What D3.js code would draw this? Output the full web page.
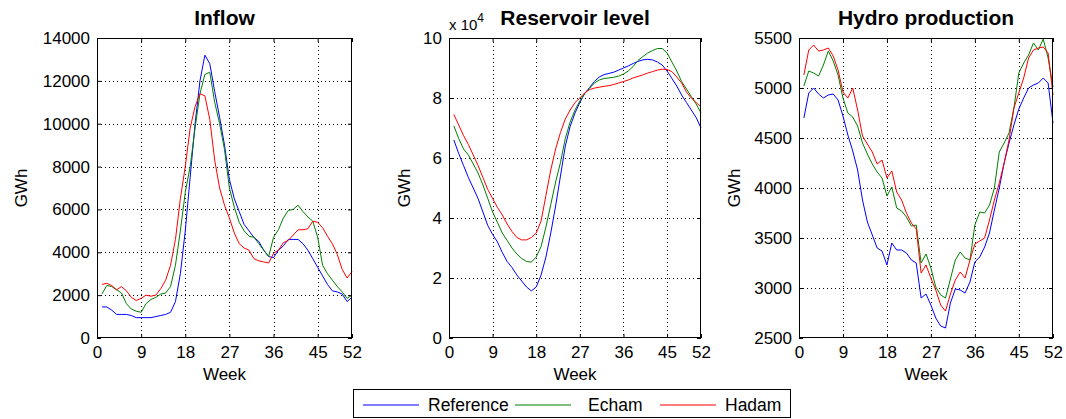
<!DOCTYPE html>
<html>
<head>
<meta charset="utf-8">
<script src="https://cdn.jsdelivr.net/npm/d3@7"></script>
<style>
  html, body { margin: 0; padding: 0; background: #fff; }
  svg { display: block; font-family: "Liberation Sans", Arial, sans-serif; }
</style>
</head>
<body>
<svg id="chart" width="1066" height="419"></svg>
<script>
// ---------- data ----------
const weeks = d3.range(1, 53);
const seriesNames = ["Reference", "Echam", "Hadam"];
const seriesColors = ["#0000ff", "#008000", "#ff0000"];
const xTicks = [0, 9, 18, 27, 36, 45, 52];

const inflowTitle = "Inflow";
const inflowTicks = [0, 2000, 4000, 6000, 8000, 10000, 12000, 14000];
const inflowReference = [1450,1450,1300,1100,1100,1100,1050,950,950,950,950,1000,1050,1100,1200,1700,3000,5000,7500,10000,12000,13200,12800,11500,10300,9000,7400,6500,5900,5300,5000,4700,4500,4100,3800,3750,4100,4300,4600,4600,4600,4400,4100,3700,3300,2900,2500,2200,2150,2050,1700,1900];
const inflowEcham = [2050,2450,2400,2250,2100,1600,1350,1250,1200,1600,1800,1900,2050,2100,2400,3400,5000,6800,8000,9800,11400,12300,12400,11000,10000,8800,7000,6100,5400,5000,4750,4700,4400,4100,3800,4700,5050,5600,5950,6000,6200,5900,5650,5450,4700,3400,3000,2700,2400,2150,1850,2000];
const inflowHadam = [2500,2550,2450,2250,2400,2200,1900,1750,1850,2000,1950,2000,2300,2700,3400,4600,6500,8000,9800,10800,11400,11300,10200,8300,7000,6200,5600,4900,4400,4200,4100,3700,3600,3550,3500,3950,4100,4450,4550,4800,5050,5050,5100,5450,5400,5150,4750,4400,3900,3200,2800,3100];

const reservoirTitle = "Reservoir level";
const reservoirTicks = [0, 20000, 40000, 60000, 80000, 100000];
const reservoirReference = [66000,61500,57500,53500,50000,46500,42000,37500,34500,32000,28500,25500,23500,21000,19000,17000,15700,17000,21000,27000,35000,44000,54000,64000,70500,75000,78500,81500,83500,85500,87000,87800,88200,88600,89300,90000,90700,91500,92200,92700,92900,92700,92000,91000,89000,86500,84000,81000,78500,76000,73500,70000];
const reservoirEcham = [70700,66500,63000,61000,58000,55000,51000,46500,42000,38500,35000,32500,30000,28000,26500,25500,25300,27000,30500,37000,44500,52000,58500,66500,72000,76000,79000,81500,83200,85000,86000,86500,86700,86900,87300,88000,89000,90500,92500,93800,95000,95800,96500,96500,95000,92000,89000,85500,83000,80500,78000,75000];
const reservoirHadam = [74500,71000,67500,64500,61000,57500,53500,49500,46500,43500,41000,38000,35500,33500,32700,32700,33500,35000,39000,47500,56000,63000,68500,73000,76000,78500,80000,81700,82800,83300,83600,83900,84100,84500,85000,85500,86000,86700,87200,87700,88300,88800,89300,89600,89500,88800,87000,85000,82000,80000,78500,77000];

const hydroTitle = "Hydro production";
const hydroTicks = [2500, 3000, 3500, 4000, 4500, 5000, 5500];
const hydroReference = [4700,4950,5000,4940,4900,4930,4940,4880,4720,4530,4370,4180,3880,3660,3530,3400,3370,3230,3450,3380,3380,3350,3280,3250,2900,2940,2830,2700,2620,2600,2850,2990,2980,2950,3060,3260,3310,3410,3550,3780,4000,4250,4450,4630,4790,4900,5000,5030,5050,5100,5050,4650];
const hydroEcham = [5020,5170,5150,5120,5230,5370,5270,5130,4900,4750,4710,4620,4450,4340,4240,4160,4100,3920,4010,3800,3770,3710,3620,3630,3250,3340,3200,3010,2930,2900,3090,3280,3360,3300,3280,3630,3760,3750,3830,4000,4360,4450,4550,4800,5150,5250,5330,5450,5380,5490,5300,5010];
const hydroHadam = [5130,5380,5430,5370,5380,5400,5320,5180,4960,4900,5000,4780,4520,4440,4360,4240,4280,4100,4170,3960,3880,3750,3650,3590,3150,3230,3100,2980,2830,2770,2940,3080,3160,3100,3280,3440,3470,3500,3680,3880,4050,4250,4480,4800,4950,5100,5300,5380,5400,5410,5350,4930];

const yLabel = "GWh";
const xLabel = "Week";

// ---------- layout ----------
const svg = d3.select("#chart");
const plotTop = 38, plotBottom = 338;
const panels = [
  { title: inflowTitle, left: 97, right: 352, domain: [0, 14000], ticks: inflowTicks, fmt: d => d,
    series: [inflowReference, inflowEcham, inflowHadam], ylabX: 27 },
  { title: reservoirTitle, left: 449, right: 701, domain: [0, 100000], ticks: reservoirTicks, fmt: d => d / 10000,
    series: [reservoirReference, reservoirEcham, reservoirHadam], ylabX: 410, exponent: true },
  { title: hydroTitle, left: 799, right: 1053, domain: [2500, 5500], ticks: hydroTicks, fmt: d => d,
    series: [hydroReference, hydroEcham, hydroHadam], ylabX: 740 }
];

panels.forEach(p => {
  const x = d3.scaleLinear().domain([0, 52]).range([p.left, p.right]);
  const y = d3.scaleLinear().domain(p.domain).range([plotBottom, plotTop]);
  const g = svg.append("g");

  // grid
  const grid = g.append("g").attr("stroke", "#000").attr("stroke-width", 1).attr("stroke-dasharray", "1,3");
  xTicks.filter(t => t > 0 && t < 52).forEach(t => {
    grid.append("line").attr("x1", Math.round(x(t)) + 0.5).attr("x2", Math.round(x(t)) + 0.5)
      .attr("y1", plotTop).attr("y2", plotBottom);
  });
  p.ticks.filter(t => t > p.domain[0] && t < p.domain[1]).forEach(t => {
    grid.append("line").attr("y1", Math.round(y(t)) + 0.5).attr("y2", Math.round(y(t)) + 0.5)
      .attr("x1", p.left).attr("x2", p.right);
  });

  // lines
  const line = d3.line().x((d, i) => x(weeks[i])).y(d => y(d));
  p.series.forEach((s, k) => {
    g.append("path").datum(s).attr("d", line).attr("fill", "none")
      .attr("stroke", seriesColors[k]).attr("stroke-width", 1);
  });

  // axes
  const fs = "17px";
  const ax = g.append("g").attr("transform", `translate(0,${plotBottom})`)
    .call(d3.axisBottom(x).tickValues(xTicks).tickSizeInner(-4).tickSizeOuter(0).tickPadding(8));
  const ay = g.append("g").attr("transform", `translate(${p.left},0)`)
    .call(d3.axisLeft(y).tickValues(p.ticks).tickFormat(p.fmt).tickSizeInner(-4).tickSizeOuter(0).tickPadding(7));
  const at = g.append("g").attr("transform", `translate(0,${plotTop})`)
    .call(d3.axisTop(x).tickValues(xTicks).tickFormat("").tickSizeInner(-4).tickSizeOuter(0));
  const ar = g.append("g").attr("transform", `translate(${p.right},0)`)
    .call(d3.axisRight(y).tickValues(p.ticks).tickFormat("").tickSizeInner(-4).tickSizeOuter(0));
  [ax, ay, at, ar].forEach(a => {
    a.select(".domain").remove();
    a.selectAll("text").attr("font-size", fs).attr("fill", "#000")
      .attr("font-family", "'Liberation Sans', Arial, sans-serif");
    a.selectAll("line").attr("stroke", "#000");
  });

  // frame
  g.append("rect").attr("x", p.left + 0.5).attr("y", plotTop + 0.5)
    .attr("width", p.right - p.left - 1).attr("height", plotBottom - plotTop - 1)
    .attr("fill", "none").attr("stroke", "#000").attr("stroke-width", 1);

  // title
  g.append("text").attr("x", (p.left + p.right) / 2).attr("y", 25)
    .attr("text-anchor", "middle").attr("font-weight", "bold").attr("font-size", "21px")
    .text(p.title);

  // axis labels
  g.append("text").attr("x", (p.left + p.right) / 2).attr("y", 380)
    .attr("text-anchor", "middle").attr("font-size", "17px").text(xLabel);
  g.append("text").attr("transform", `translate(${p.ylabX},${(plotTop + plotBottom) / 2}) rotate(-90)`)
    .attr("text-anchor", "middle").attr("font-size", "17px").text(yLabel);

  if (p.exponent) {
    const t = g.append("text").attr("x", p.left).attr("y", 30).attr("font-size", "15px");
    t.append("tspan").text("x 10");
    t.append("tspan").attr("dy", -8).attr("font-size", "12px").text("4");
  }
});

// legend
const lg = svg.append("g");
lg.append("rect").attr("x", 353.5).attr("y", 389.5).attr("width", 437).attr("height", 28)
  .attr("fill", "#fff").attr("stroke", "#000");
const legLineX = [363, 515, 660];
const legTextX = [428, 588, 725];
seriesNames.forEach((n, k) => {
  lg.append("line").attr("x1", legLineX[k]).attr("x2", legLineX[k] + 56)
    .attr("y1", 405).attr("y2", 405).style("stroke", seriesColors[k]).style("stroke-width", 1.2);
  lg.append("text").attr("x", legTextX[k]).attr("y", 411).attr("font-size", "17.5px").text(n);
});
</script>
</body>
</html>
